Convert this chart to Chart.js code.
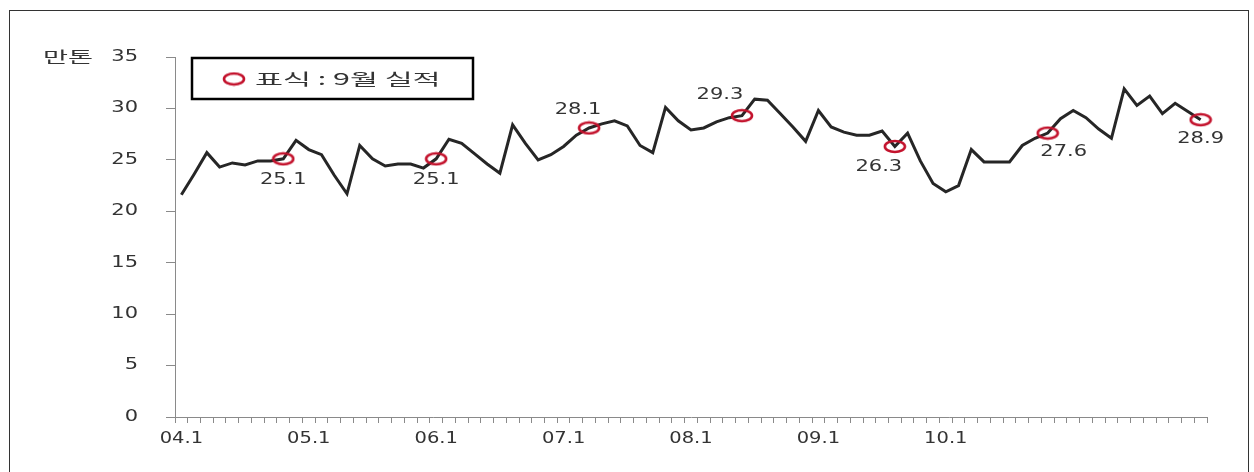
<!DOCTYPE html>
<html>
<head>
<meta charset="utf-8">
<script src="https://cdn.jsdelivr.net/npm/chart.js@4/dist/chart.umd.min.js"></script>
<style>
  html, body { margin: 0; padding: 0; background: #fff; }
  #wrap { position: relative; width: 1254px; height: 472px; overflow: hidden; }
  #frame { position: absolute; left: 9px; top: 10px; width: 1238px; height: 480px; border: 1px solid #333; }
  #c { position: absolute; left: 0; top: 0; }
</style>
</head>
<body>
<div id="wrap">
  <div id="frame"></div>
  <canvas id="c" width="1254" height="472"></canvas>
</div>
<script>
// monthly categories, 2004.1 - 2010.9
const years = ['04', '05', '06', '07', '08', '09', '10'];
const months = [];
years.forEach(y => {
    for (let m = 1; m <= 12; m++) {
        if (y === '10' && m > 9) break;
        months.push(y + '.' + m);
    }
});

// axis labels as printed under the axis (one every 10 categories)
const tickLabels = ['04.1', '05.1', '06.1', '07.1', '08.1', '09.1', '10.1'];
const yTicks = [0, 5, 10, 15, 20, 25, 30, 35];

// volume, 만톤
const volume = [
    21.6, 23.6, 25.7, 24.3, 24.7, 24.5, 24.9, 24.9, 25.1, 26.9, 26.0, 25.5,
    23.5, 21.7, 26.4, 25.1, 24.4, 24.6, 24.6, 24.2, 25.1, 27.0, 26.6, 25.6,
    24.6, 23.7, 28.4, 26.6, 25.0, 25.5, 26.3, 27.4, 28.1, 28.5, 28.8, 28.3,
    26.4, 25.7, 30.1, 28.8, 27.9, 28.1, 28.7, 29.1, 29.3, 30.9, 30.8, 29.5,
    28.2, 26.8, 29.8, 28.2, 27.7, 27.4, 27.4, 27.8, 26.3, 27.6, 24.9, 22.7,
    21.9, 22.5, 26.0, 24.8, 24.8, 24.8, 26.4, 27.1, 27.6, 29.0, 29.8, 29.1,
    28.0, 27.1, 31.9, 30.3, 31.2, 29.5, 30.5, 29.7, 28.9
];

// September points are marked
const isSep = i => months[i].endsWith('.9');

// label offsets for the September values (label centre relative to point)
const sepLabelOffset = {
    8: [0, 21], 20: [0, 21], 32: [-11, -18], 44: [-22, -21],
    56: [-16, 21], 68: [16, 19], 80: [0, 19]
};

const RED = '#c3122c';
const DIGIT_FONT = '15px "DejaVu Sans"';
const KO_FONT = '16px "Noto Sans CJK KR"';

// ellipse marker
function makeMarker(w, h) {
    const cv = document.createElement('canvas');
    cv.width = w; cv.height = h;
    const c = cv.getContext('2d');
    c.strokeStyle = RED;
    c.lineWidth = 2.6;
    c.beginPath();
    c.ellipse(w / 2, h / 2, w / 2 - 2, h / 2 - 2, 0, 0, Math.PI * 2);
    c.stroke();
    return cv;
}
const marker = makeMarker(24, 15);

function stretchText(ctx, text, x, y, align, sx) {
    ctx.save();
    ctx.translate(x, y);
    ctx.scale(sx, 1);
    ctx.textAlign = align;
    ctx.textBaseline = 'middle';
    ctx.fillText(text, 0, 0);
    ctx.restore();
}

const textPlugin = {
    id: 'texts',
    afterDraw(chart) {
        const ctx = chart.ctx;
        const xs = chart.scales.x, ys = chart.scales.y;
        ctx.save();
        ctx.fillStyle = '#333';
        ctx.font = DIGIT_FONT;
        // y tick labels
        ys.ticks.forEach(t => {
            stretchText(ctx, String(t.value), 138, ys.getPixelForValue(t.value), 'right', 1.4);
        });
        // x tick labels
        xs.ticks.forEach((t, i) => {
            if (i % 10 === 0 && tickLabels[i / 10]) {
                stretchText(ctx, tickLabels[i / 10], xs.getPixelForTick(i), 439, 'center', 1.3);
            }
        });
        // september values
        const meta = chart.getDatasetMeta(0);
        Object.keys(sepLabelOffset).forEach(k => {
            const i = +k;
            const p = meta.data[i];
            const off = sepLabelOffset[k];
            stretchText(ctx, volume[i].toFixed(1), p.x + off[0], p.y + off[1], 'center', 1.4);
        });
        // unit
        ctx.font = KO_FONT;
        stretchText(ctx, '만톤', 43, ys.getPixelForValue(35), 'left', 1.7);
        // legend box
        ctx.strokeStyle = '#000';
        ctx.lineWidth = 2.5;
        ctx.strokeRect(192, 58, 281, 41);
        ctx.drawImage(marker, 234 - 12, 79 - 7.5);
        stretchText(ctx, '표식 : 9월 실적', 255, 79, 'left', 1.9);
        ctx.restore();
    }
};

const ctx = document.getElementById('c').getContext('2d');
new Chart(ctx, {
    type: 'line',
    data: {
        labels: months,
        datasets: [{
            data: volume,
            borderColor: '#262626',
            borderWidth: 3,
            tension: 0,
            clip: false,
            pointStyle: c => isSep(c.dataIndex) ? marker : 'circle',
            pointRadius: c => isSep(c.dataIndex) ? 6 : 0,
            pointHoverRadius: 0
        }]
    },
    options: {
        responsive: false,
        animation: false,
        events: [],
        layout: { padding: { left: 0, top: 57, right: 47, bottom: 0 } },
        plugins: { legend: { display: false }, tooltip: { enabled: false } },
        scales: {
            x: {
                offset: true,
                grid: { offset: true, drawOnChartArea: false, drawTicks: true, tickLength: 6, color: '#8a8a8a' },
                border: { color: '#8a8a8a', width: 1 },
                ticks: { display: false, autoSkip: false },
                afterFit: s => { s.height = 55; }
            },
            y: {
                min: 0,
                max: 35,
                afterBuildTicks: s => { s.ticks = yTicks.map(v => ({ value: v })); },
                grid: { drawOnChartArea: false, drawTicks: true, tickLength: 9, color: '#8a8a8a' },
                border: { color: '#8a8a8a', width: 1 },
                ticks: { display: false },
                afterFit: s => { s.width = 175; }
            }
        }
    },
    plugins: [textPlugin]
});
</script>
</body>
</html>
